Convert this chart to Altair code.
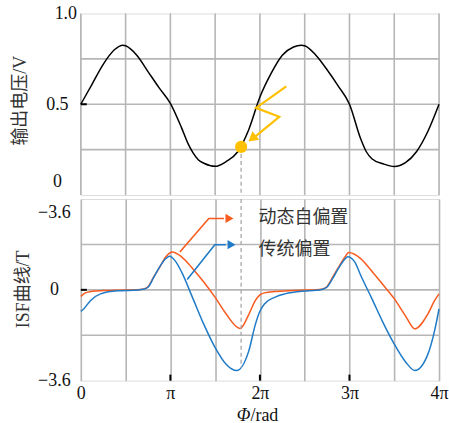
import altair as alt
import pandas as pd

# ---------------- data (x in units of pi) ----------------
volt_phi = [0, 0.125, 0.25, 0.375, 0.47, 0.5, 0.625, 0.75, 0.875, 1.0, 1.125, 1.2, 1.25, 1.314, 1.375,
            1.5, 1.625, 1.75, 1.875, 2.0, 2.125, 2.25, 2.375, 2.46, 2.5, 2.625, 2.75, 2.875, 3.0,
            3.125, 3.19, 3.25, 3.375, 3.5, 3.625, 3.75, 3.875, 4.0]
volt_val = [0.50, 0.61, 0.72, 0.80, 0.825, 0.822, 0.77, 0.68, 0.59, 0.505, 0.37, 0.28, 0.235, 0.193, 0.175,
            0.158, 0.185, 0.237, 0.36, 0.54, 0.67, 0.77, 0.815, 0.825, 0.822, 0.77, 0.69, 0.60, 0.50,
            0.31, 0.237, 0.20, 0.172, 0.157, 0.178, 0.24, 0.35, 0.50]

dyn_phi = [0, 0.05, 0.125, 0.25, 0.375, 0.5, 0.625, 0.7, 0.75, 0.8125, 0.875, 0.95, 1.02, 1.125, 1.25,
           1.375, 1.5, 1.625, 1.75, 1.78, 1.875, 1.95, 2.0, 2.05, 2.17, 2.375, 2.5, 2.625, 2.7, 2.75,
           2.8125, 2.875, 2.95, 2.99, 3.125, 3.25, 3.375, 3.5, 3.625, 3.73, 3.875, 3.95, 4.0]
dyn_val = [-0.26, -0.12, -0.06, -0.03, -0.02, -0.01, 0.0, 0.03, 0.12, 0.5, 0.86, 1.31, 1.5, 1.31, 0.84,
           0.3, -0.3, -0.97, -1.49, -1.53, -0.98, -0.42, -0.2, -0.12, -0.07, -0.03, -0.01, 0.0, 0.03, 0.13,
           0.5, 0.88, 1.3, 1.48, 1.24, 0.74, 0.2, -0.35, -1.03, -1.55, -0.96, -0.43, -0.16]

trad_phi = [0, 0.02, 0.11, 0.22, 0.41, 0.5, 0.625, 0.7, 0.75, 0.8125, 0.875, 0.95, 0.99, 1.06, 1.125,
            1.25, 1.375, 1.5, 1.625, 1.74, 1.875, 1.95, 2.0, 2.05, 2.17, 2.28, 2.5, 2.625, 2.7, 2.75,
            2.8125, 2.875, 2.95, 2.98, 3.06, 3.125, 3.25, 3.375, 3.5, 3.625, 3.73, 3.875, 3.95, 4.0]
trad_val = [-0.85, -0.8, -0.42, -0.16, -0.04, -0.03, -0.01, 0.02, 0.1, 0.48, 0.88, 1.24, 1.33, 1.12, 0.71,
            -0.33, -1.38, -2.29, -2.96, -3.2, -2.43, -1.36, -0.85, -0.56, -0.29, -0.16, -0.05, -0.02, 0.02, 0.11,
            0.45, 0.84, 1.22, 1.31, 1.1, 0.58, -0.35, -1.3, -2.15, -2.85, -3.2, -2.56, -1.63, -0.76]

series_names = ["动态自偏置", "传统偏置"]
series_colors = ["#F95A1E", "#1F7BC7"]

x_ticks = [0, 0.5, 1, 1.5, 2, 2.5, 3, 3.5, 4]
top_grid = [0.25, 0.5, 0.75]
bot_grid = [-1.8, 0, 1.8]
top_labels_at = [0.073, 0.5, 1.0]
bot_labels_at = [-3.6, 0, 3.05]

# marker (orange dot) and annotation geometry in data units
dot_phi, dot_val = [1.79], [0.265]
bolt_phi = [2.294, 1.957, 2.216, 1.93]
bolt_val = [0.598, 0.48, 0.431, 0.315]
bolt_head = {"phi": [1.927], "v": [0.317]}
arr_dyn_phi = [1.106, 1.429, 1.60]
arr_dyn_val = [1.50, 2.83, 2.83]
arr_trad_phi = [1.188, 1.496, 1.62]
arr_trad_val = [0.41, 1.79, 1.79]
head_phi = [1.645, 1.668]
head_val = [2.83, 1.79]
note_phi = [1.985, 1.985]
note_val = [2.83, 1.59]

W, H1, H2 = 359, 182, 182
SERIF = "Liberation Serif"
CJK = "Liberation Serif, Noto Sans CJK SC"
GRID = "#b6b6b6"

xscale = alt.Scale(domain=[0, 4], nice=False, zero=False)
x_label_expr = ("datum.value == 0 ? '0' : datum.value == 1 ? 'π' : "
                "(datum.value % 1 == 0 ? datum.value + 'π' : '')")

bottom_x_axis = alt.Axis(values=x_ticks, grid=True, gridColor=GRID, gridWidth=1.6, ticks=False, tickSize=0,
                         domain=False, labelExpr=x_label_expr, labelFont=SERIF,
                         labelFontSize=18, labelColor="#111", labelPadding=4, labelFlush=False,
                         labelOverlap=False, title=None)

# ---------------- top panel ----------------
volt_df = pd.DataFrame({"phi": volt_phi, "v": volt_val})
tgrid_df = pd.DataFrame({"v": top_grid})
xgrid_df = pd.DataFrame({"phi": x_ticks})
bolt_df = pd.DataFrame({"phi": bolt_phi, "v": bolt_val, "i": list(range(len(bolt_phi)))})
dot_df = pd.DataFrame({"phi": dot_phi, "v": dot_val})

ty = alt.Scale(domain=[0, 1], nice=False, zero=False)
top_y_axis = alt.Axis(values=top_labels_at, grid=False, ticks=False, tickSize=0, domain=False,
                      labelExpr="datum.value < 0.2 ? '0' : format(datum.value, '.1f')",
                      labelFont=SERIF, labelFontSize=18, labelColor="#111", labelAlign="center",
                      labelPadding={"condition": {"test": "datum.value == 1", "value": 15.5}, "value": 24},
                      title="输出电压/V", titleFont=CJK, titleFontSize=18, titleFontWeight="normal",
                      titleColor="#333", titleX=-60, titleY=87, titleBaseline="middle", titleAngle=270)

t_grid = alt.Chart(tgrid_df).mark_rule(color=GRID, strokeWidth=1.6).encode(
    y=alt.Y("v:Q", scale=ty, axis=top_y_axis))
t_xgrid = alt.Chart(xgrid_df).mark_rule(color=GRID, strokeWidth=1.6).encode(
    x=alt.X("phi:Q", scale=xscale, axis=None))
t_line = alt.Chart(volt_df).mark_line(color="#000", strokeWidth=1.5, interpolate="monotone").encode(
    x=alt.X("phi:Q", scale=xscale, axis=None),
    y=alt.Y("v:Q", scale=ty))
t_dash = alt.Chart(dot_df).mark_rule(color="#a8a8a8", strokeWidth=1.3, strokeDash=[4, 3]).encode(
    x="phi:Q", y="v:Q", y2=alt.datum(0))
t_bolt = alt.Chart(bolt_df).mark_line(color="#FFC000", strokeWidth=2.2).encode(
    x="phi:Q", y="v:Q", order="i:O")
t_head = alt.Chart(pd.DataFrame(bolt_head)).mark_point(
    shape="triangle", filled=True, size=120, angle=231.5, color="#FFC000", opacity=1).encode(
    x="phi:Q", y="v:Q")
t_dot = alt.Chart(dot_df).mark_circle(size=150, color="#FFC000", opacity=1).encode(x="phi:Q", y="v:Q")
t_tick = alt.Chart(pd.DataFrame({"v": [0.5]})).mark_rule(color="#000", strokeWidth=2).encode(
    x=alt.value(0), x2=alt.value(6), y="v:Q")

top = alt.layer(t_grid, t_xgrid, t_line, t_dash, t_bolt, t_head, t_dot, t_tick).properties(width=W, height=H1)

# ---------------- bottom panel ----------------
isf_df = pd.concat([
    pd.DataFrame({"phi": dyn_phi, "v": dyn_val, "s": series_names[0]}),
    pd.DataFrame({"phi": trad_phi, "v": trad_val, "s": series_names[1]}),
])
bgrid_df = pd.DataFrame({"v": bot_grid})
arr_df = pd.concat([
    pd.DataFrame({"phi": arr_dyn_phi, "v": arr_dyn_val, "s": series_names[0], "i": [0, 1, 2]}),
    pd.DataFrame({"phi": arr_trad_phi, "v": arr_trad_val, "s": series_names[1], "i": [0, 1, 2]}),
])
head_df = pd.DataFrame({"phi": head_phi, "v": head_val, "s": series_names})
note_df = pd.DataFrame({"phi": note_phi, "v": note_val, "s": series_names})

by = alt.Scale(domain=[-3.6, 3.6], nice=False, zero=False)
color = alt.Color("s:N", scale=alt.Scale(domain=series_names, range=series_colors), legend=None)
bot_y_axis = alt.Axis(values=bot_labels_at, grid=False, ticks=False, tickSize=0, domain=False,
                      labelExpr="datum.value == 0 ? '0' : '−3.6'",
                      labelFont=SERIF, labelFontSize=18, labelColor="#111", labelAlign="center",
                      labelPadding=27,
                      title="ISF曲线/T", titleFont=CJK, titleFontSize=18, titleFontWeight="normal",
                      titleColor="#333", titleX=-57.5, titleY=90, titleBaseline="middle", titleAngle=270)

b_grid = alt.Chart(bgrid_df).mark_rule(color=GRID, strokeWidth=1.6).encode(
    y=alt.Y("v:Q", scale=by, axis=bot_y_axis))
b_lines = alt.Chart(isf_df).mark_line(strokeWidth=1.5, interpolate="monotone").encode(
    x=alt.X("phi:Q", scale=xscale, axis=bottom_x_axis),
    y=alt.Y("v:Q", scale=by), color=color, detail="s:N")
b_dash = alt.Chart(pd.DataFrame({"phi": dot_phi})).mark_rule(
    color="#a8a8a8", strokeWidth=1.3, strokeDash=[4, 3]).encode(
    x="phi:Q", y=alt.datum(3.6), y2=alt.datum(-3.1))
b_arr = alt.Chart(arr_df).mark_line(strokeWidth=1.6).encode(
    x="phi:Q", y="v:Q", color=color, detail="s:N", order="i:O")
b_head = alt.Chart(head_df).mark_point(shape="triangle", filled=True, size=85, angle=90, opacity=1).encode(
    x="phi:Q", y="v:Q", color=color)
b_note = alt.Chart(note_df).mark_text(font="Noto Sans CJK SC", fontSize=18, color="#333",
                                      align="left", baseline="middle").encode(
    x="phi:Q", y="v:Q", text="s:N")
b_tick_y = alt.Chart(pd.DataFrame({"v": [0]})).mark_rule(color="#000", strokeWidth=2).encode(
    x=alt.value(0), x2=alt.value(6), y="v:Q")
b_tick_x = alt.Chart(pd.DataFrame({"phi": [1, 2, 3]})).mark_rule(color="#000", strokeWidth=2).encode(
    x="phi:Q", y=alt.value(H2), y2=alt.value(H2 - 6))
b_xt1 = alt.Chart(pd.DataFrame({"t": ["Φ"]})).mark_text(
    font=SERIF, fontSize=18, fontStyle="italic", color="#111", align="right", baseline="middle").encode(
    x=alt.value(170), y=alt.value(H2 + 35), text="t:N")
b_xt2 = alt.Chart(pd.DataFrame({"t": ["/rad"]})).mark_text(
    font=SERIF, fontSize=18, color="#111", align="left", baseline="middle").encode(
    x=alt.value(170), y=alt.value(H2 + 35), text="t:N")

bottom = alt.layer(b_grid, b_lines, b_dash, b_arr, b_head, b_note, b_tick_y, b_tick_x,
                   b_xt1, b_xt2).properties(width=W, height=H2)

chart = alt.vconcat(top, bottom, spacing=0).properties(
    padding={"left": 11, "top": 3, "right": 0, "bottom": 0}
).configure_view(stroke="#111", strokeWidth=2).configure(background="white")

chart.save("out.html", embed_options={"renderer": "svg", "actions": False})
